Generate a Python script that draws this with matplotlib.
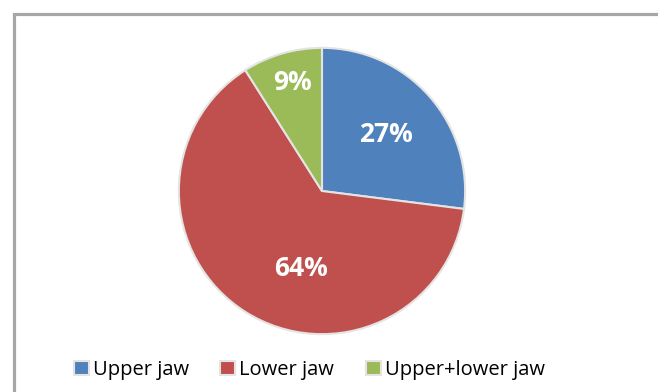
import matplotlib.pyplot as plt
from matplotlib.patches import Rectangle

labels = ["Upper jaw", "Lower jaw", "Upper+lower jaw"]
shares = [27, 64, 9]
colors = ["#4f81bd", "#c0504d", "#9bbb59"]

W, H = 658, 392
fig = plt.figure(figsize=(W / 100, H / 100), dpi=100)
plt.rcParams["font.family"] = ["Open Sans", "DejaVu Sans"]

# gray frame, open on right and bottom
fig.patches.append(Rectangle((13.5 / W, -0.5), 2, 1.5 - 13.5 / H,
                             transform=fig.transFigure, fill=False,
                             edgecolor="#a6a6a6", linewidth=2.3))

cx, cy, r = 322, 201, 146
ax = fig.add_axes([(cx - r) / W, (cy - r) / H, 2 * r / W, 2 * r / H])
wedges, _, autotexts = ax.pie(shares, colors=colors, startangle=90, counterclock=False,
                              autopct="%d%%", pctdistance=0.6,
                              wedgeprops=dict(edgecolor="#e4e4e4", linewidth=1.5),
                              textprops=dict(color="white", fontsize=19, fontweight="bold"))
ax.set_xlim(-1.02, 1.02)
ax.set_ylim(-1.02, 1.02)

# nudge the percentage labels
autotexts[1].set_position((-0.15, -0.54))
autotexts[2].set_position((-0.21, 0.76))

fig.legend(wedges, labels, loc="center", bbox_to_anchor=(0.47, 22 / H), ncol=3,
           frameon=False, fontsize=14.5, handlelength=0.75, handleheight=0.75,
           columnspacing=1.55, handletextpad=0.2)

fig.savefig("out.png", dpi=100)
